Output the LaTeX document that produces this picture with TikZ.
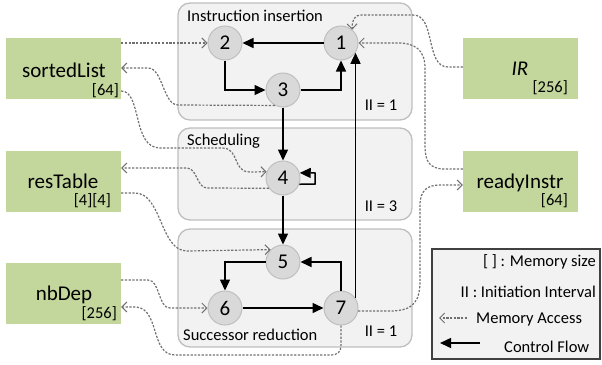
\documentclass[tikz,border=0pt]{standalone}
\usepackage{fontspec}
\setmainfont{Carlito}
\usetikzlibrary{arrows.meta}
\definecolor{panelfill}{HTML}{F2F2F2}
\definecolor{panelline}{HTML}{BFBFBF}
\definecolor{nodefill}{HTML}{D9D9D9}
\definecolor{memgreen}{HTML}{C3D69B}
\definecolor{memgray}{HTML}{707070}
\definecolor{legline}{HTML}{404040}
\begin{document}
\begin{tikzpicture}[x=1pt,y=-1pt,
 panel/.style={draw=panelline, fill=panelfill, line width=1.3pt, rounded corners=12pt},
 legendbox/.style={draw=legline, fill=panelfill, line width=1.3pt},
 op/.style={circle, draw=panelline, fill=nodefill, line width=1pt, minimum size=34pt, inner sep=0pt, font=\fontsize{21}{25}\selectfont},
 membox/.style={fill=memgreen, minimum width=115pt, minimum height=61pt, inner sep=0pt},
 biglbl/.style={font=\fontsize{21}{25}\selectfont, inner sep=0pt, anchor=base},
 smalllbl/.style={font=\fontsize{16.5}{20}\selectfont, inner sep=0pt},
 ctl/.style={line width=1.5pt, -{Triangle[length=11pt,width=10pt]}},
 mem/.style={draw=memgray, line width=1.2pt, dash pattern=on 2.2pt off 1.5pt, -{Straight Barb[length=5pt,width=10pt,line width=1pt]}},
]
\useasboundingbox (0,0) rectangle (602,364);
% panels
\path[panel] (178,3) rectangle (412,120);
\path[panel] (178,128) rectangle (412,220);
\path[panel] (178,229) rectangle (412,347);
\node[smalllbl, anchor=base west] (p1) at (187,21) {Instruction insertion};
\node[smalllbl, anchor=base west] (p2) at (187,145) {Scheduling};
\node[smalllbl, anchor=base west] (p3) at (183,340) {Successor reduction};
\node[smalllbl, anchor=base] (ii1) at (381,110) {II = 1};
\node[smalllbl, anchor=base] (ii2) at (381,211) {II = 3};
\node[smalllbl, anchor=base] (ii3) at (381,336) {II = 1};
% memories
\node[membox] (sl) at (63.5,68.5) {};
\node[membox] (rt) at (63.5,181) {};
\node[membox] (nd) at (63.5,293.5) {};
\node[membox] (ir) at (520.5,68.5) {};
\node[membox] (ri) at (520.5,181) {};
\node[biglbl] (slt) at (64,77) {sortedList};
\node[smalllbl, anchor=base east] (sls) at (119,95) {[64]};
\node[biglbl] (rtt) at (63,188) {resTable};
\node[smalllbl, anchor=base east] (rts) at (111,205) {[4][4]};
\node[biglbl] (ndt) at (64,300) {nbDep};
\node[smalllbl, anchor=base east] (nds) at (117,318) {[256]};
\node[biglbl] (irt) at (520,75) {\itshape IR};
\node[smalllbl, anchor=base east] (irs) at (568,92) {[256]};
\node[biglbl] (rit) at (520,188) {readyInstr};
\node[smalllbl, anchor=base east] (ris) at (568,205) {[64]};
% operations
\node[op] (n1) at (341,43) {1};
\node[op] (n2) at (225,43) {2};
\node[op] (n3) at (283,90) {3};
\node[op] (n4) at (283,178) {4};
\node[op] (n5) at (283,262) {5};
\node[op] (n6) at (225,308) {6};
\node[op] (n7) at (341,308) {7};
% control flow
\draw[ctl] (n1.west) -- (n2.east);
\draw[ctl] (n2.south) |- (n3.west);
\draw[ctl] (n3.east) -| (n1.south);
\draw[ctl] (n3.south) -- (n4.north);
\draw[ctl] (n4.-21) -- (315,184) -- (315,173) -- (n4.17);
\draw[ctl] (n4.south) -- (n5.north);
\draw[ctl] (n5.west) -| (n6.north);
\draw[ctl] (n6.east) -- (n7.west);
\draw[ctl] (n7.north) |- (n5.east);
\draw[ctl] (n7.34) -- (n1.-34);
% memory accesses
\draw[mem] (sl.east |- n2) -- (n2.west);
\draw[mem] (n3.242) -- (178,105) .. controls (163,105) and (163,68) .. (148,68) -- (sl.east |- 0,68);
\draw[mem] (sl.east |- 0,91) .. controls (142,91) and (132,148) .. (160,148) -- (222,148) .. controls (240,148) and (232,172) .. (250,172) -- (n4.159);
\draw[mem] (n4.216) -- (207,188) .. controls (197,188) and (197,168) .. (187,168) -- (rt.east |- 0,168);
\draw[mem] (rt.east |- 0,193) -- (135,193) .. controls (162,193) and (160,251) .. (187,251) -- (n5.135);
\draw[mem] (nd.east |- 0,280) -- (148,280) .. controls (160,280) and (158,308) .. (170,308) -- (n6.west);
\draw[mem] (n7.south) -- (341,345) .. controls (341,352) and (338,355) .. (330,355) -- (175,355) .. controls (150,355) and (160,307) .. (135,307) -- (nd.east |- 0,307);
\draw[mem] (ir.west |- 0,67) -- (448,67) .. controls (425,67) and (436,15) .. (413,15) -- (362,15) .. controls (354,15) and (352,20) .. (n1.50);
\draw[mem] (ri.west |- 0,169) -- (445,169) .. controls (428,169) and (425,160) .. (425,145) -- (425,68) .. controls (425,50) and (415,43) .. (398,43) -- (n1.east);
\draw[mem] (n7.-10) -- (390,311) .. controls (415,311) and (420,300) .. (420,280) -- (420,205) .. controls (420,190) and (428,185) .. (440,185) -- (ri.west |- 0,185);
% legend
\path[legendbox] (432,249) rectangle (600,359);
\node[smalllbl, anchor=base east] (lg1) at (596,266) {[ ] : Memory size};
\node[smalllbl, anchor=base east] (lg2) at (596,297) {II : Initiation Interval};
\node[smalllbl, anchor=base west] (lg3) at (476,323) {Memory Access};
\node[smalllbl, anchor=base west] (lg4) at (504,352) {Control Flow};
\coordinate (la1s) at (467,318);
\coordinate (la1e) at (439,318);
\coordinate (la2s) at (480,343);
\coordinate (la2e) at (440,343);
\draw[mem] (la1s) -- (la1e);
\draw[ctl] (la2s) -- (la2e);
\end{tikzpicture}
\end{document}
